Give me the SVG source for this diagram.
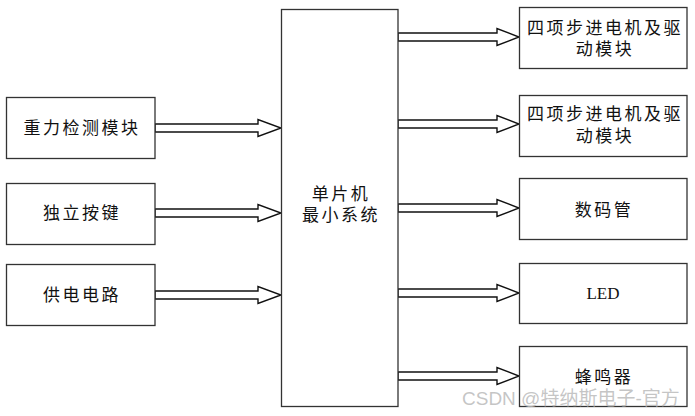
<svg xmlns="http://www.w3.org/2000/svg" width="695" height="416" viewBox="0 0 695 416">
<style>
.box{fill:#fff;stroke:#333;stroke-width:1.3}
.arr{fill:#fff;stroke:#111;stroke-width:1.4;stroke-linejoin:miter}
.t{font-family:"Liberation Sans","Noto Sans CJK SC",sans-serif;font-size:17px;letter-spacing:2.5px;fill:#111;text-anchor:middle;dominant-baseline:central}
.s{font-family:"Liberation Serif",serif;font-size:17px;fill:#111;text-anchor:middle;dominant-baseline:central}
.wm{font-family:"Liberation Sans","Noto Sans CJK SC",sans-serif;font-size:19px;fill:#bbb;fill-opacity:0.85;dominant-baseline:central}
</style>
<rect width="695" height="416" fill="#fff"/>
<g id="connectors">
<polygon class="arr" points="155,124 258,124 258,119.5 281,128 258,136.5 258,132 155,132"/>
<polygon class="arr" points="155,209 258,209 258,204.5 281,213 258,221.5 258,217 155,217"/>
<polygon class="arr" points="155,291 258,291 258,286.5 281,295 258,303.5 258,299 155,299"/>
<polygon class="arr" points="398,33 497,33 497,28.5 519,37 497,45.5 497,41 398,41"/>
<polygon class="arr" points="398,120 497,120 497,115.5 519,124 497,132.5 497,128 398,128"/>
<polygon class="arr" points="398,204 497,204 497,199.5 519,208 497,216.5 497,212 398,212"/>
<polygon class="arr" points="398,289 497,289 497,284.5 519,293 497,301.5 497,297 398,297"/>
<polygon class="arr" points="398,372 497,372 497,367.5 519,376 497,384.5 497,380 398,380"/>
</g>
<g id="mcu">
<rect class="box" x="281.5" y="9.5" width="116.5" height="397"/>
<text class="t" x="341" y="194">单片机<tspan x="341" dy="21">最小系统</tspan></text>
</g>
<g id="gravity">
<rect class="box" x="6.5" y="97.5" width="148.5" height="61"/>
<text class="t" x="82" y="128">重力检测模块</text>
</g>
<g id="keys">
<rect class="box" x="6.5" y="183.5" width="148.5" height="61"/>
<text class="t" x="82" y="213">独立按键</text>
</g>
<g id="power">
<rect class="box" x="6.5" y="264.5" width="148.5" height="61"/>
<text class="t" x="82" y="295">供电电路</text>
</g>
<g id="motor1">
<rect class="box" x="519.5" y="7.5" width="167.5" height="61"/>
<text class="t" x="605" y="28">四项步进电机及驱<tspan x="605" dy="21">动模块</tspan></text>
</g>
<g id="motor2">
<rect class="box" x="519.5" y="95.5" width="167.5" height="61"/>
<text class="t" x="605" y="114.5">四项步进电机及驱<tspan x="605" dy="21">动模块</tspan></text>
</g>
<g id="seg">
<rect class="box" x="519.5" y="178.5" width="167.5" height="61"/>
<text class="t" x="604" y="210">数码管</text>
</g>
<g id="led">
<rect class="box" x="519.5" y="263.5" width="167.5" height="60"/>
<text class="s" x="603" y="293">LED</text>
</g>
<g id="buzzer">
<rect class="box" x="519.5" y="346.5" width="167.5" height="60"/>
<text class="t" x="604" y="377">蜂鸣器</text>
</g>
<text class="wm" x="462" y="398">CSDN @特纳斯电子-官方</text>
</svg>
